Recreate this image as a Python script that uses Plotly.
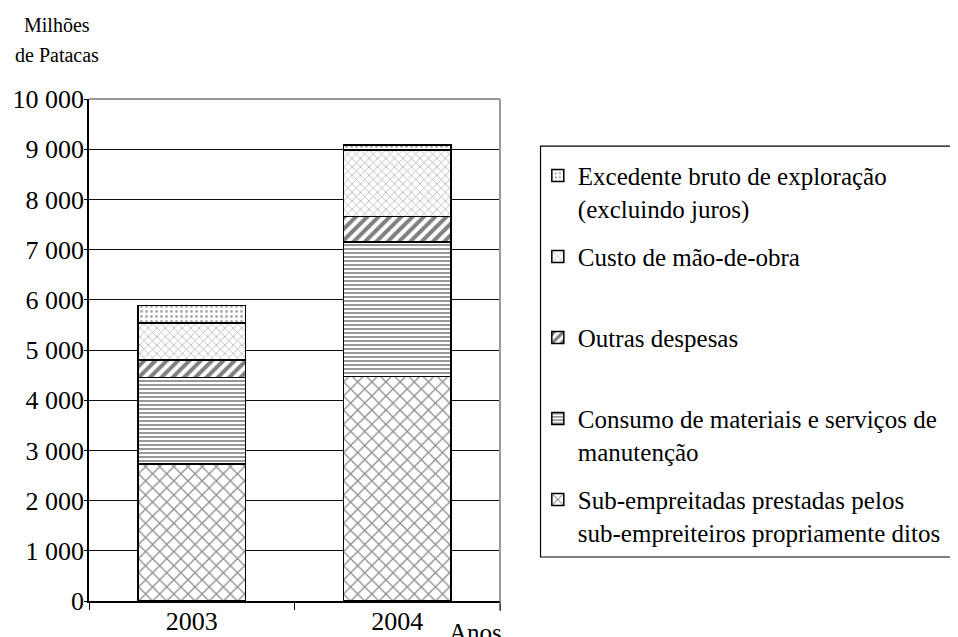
import plotly.graph_objects as go

# ---- data ----
years = ["2003", "2004"]
sub_empreitadas = [2730, 4470]
consumo = [1720, 2680]
outras = [350, 510]
custo = [740, 1320]
excedente = [345, 105]

series_names = [
    "Sub-empreitadas prestadas pelos<br>sub-empreiteiros propriamente ditos",
    "Consumo de materiais e serviços de<br>manutenção",
    "Outras despesas<br>&nbsp;",
    "Custo de mão-de-obra<br>&nbsp;",
    "Excedente bruto de exploração<br>(excluindo juros)",
]
series_values = [sub_empreitadas, consumo, outras, custo, excedente]
legend_ranks = [5, 4, 3, 2, 1]

ytick_vals = [0, 1000, 2000, 3000, 4000, 5000, 6000, 7000, 8000, 9000, 10000]
ytick_text = [f"{v:,}".replace(",", " ") for v in ytick_vals]

y_title_lines = ["Milhões", "de Patacas"]
x_title = "Anos"

# ---- styles ----
patterns = [
    dict(shape="x", size=10, solidity=0.25, fgcolor="#222222", bgcolor="white"),
    dict(shape="-", size=4, solidity=0.4, fgcolor="#000000", bgcolor="white"),
    dict(shape="/", size=8, solidity=0.5, fgcolor="#000000", bgcolor="white"),
    dict(shape="x", size=6, solidity=0.25, fgcolor="#666666", bgcolor="white"),
    dict(shape=".", size=5, solidity=0.25, fgcolor="#555555", bgcolor="white"),
]

FONT = "Liberation Serif, Times New Roman, serif"

fig = go.Figure()
for i, (name, vals) in enumerate(zip(series_names, series_values)):
    fig.add_trace(go.Bar(
        x=years, y=vals, name=name, legendgroup=f"g{i}", legendrank=legend_ranks[i],
        marker=dict(color="white", pattern=patterns[i],
                    line=dict(color="black", width=1.5)),
    ))

# page body has an 8px default margin: figure is sized/margined to compensate
fig.update_layout(
    width=950, height=629,
    margin=dict(l=81, r=453, t=91, b=36),
    paper_bgcolor="white", plot_bgcolor="white",
    font=dict(family=FONT, size=25, color="black"),
    barmode="stack", bargap=0.476,
    showlegend=True,
    legend=dict(
        x=1.092, xanchor="left", y=0.893, yanchor="top",
        traceorder="grouped", tracegroupgap=13,
        valign="top", bgcolor="rgba(0,0,0,0)", borderwidth=0,
        font=dict(family=FONT, size=25, color="black"),
    ),
    xaxis=dict(
        type="category", showline=True, linecolor="black", linewidth=1.5,
        ticks="outside", tickson="boundaries", ticklen=7, tickcolor="black",
        ticklabelstandoff=-4,
        showgrid=False, tickfont=dict(size=26), automargin=False,
    ),
    yaxis=dict(
        range=[0, 10000], tickvals=ytick_vals, ticktext=ytick_text,
        showline=True, linecolor="black", linewidth=1.5,
        ticks="outside", ticklen=3, tickcolor="black",
        ticklabelstandoff=-5,
        showgrid=True, gridcolor="#111111", gridwidth=1.2,
        zeroline=False, tickfont=dict(size=26), automargin=False,
    ),
    shapes=[
        dict(type="line", xref="x domain", yref="y domain", x0=0, x1=1, y0=1, y1=1,
             line=dict(color="#999999", width=2), layer="above"),
        dict(type="line", xref="x domain", yref="y domain", x0=1, x1=1, y0=0, y1=1,
             line=dict(color="#999999", width=2), layer="above"),
        dict(type="line", xref="x domain", yref="y domain", x0=1, x1=1, y0=0, y1=-0.02,
             line=dict(color="#555555", width=1.5), layer="above"),
        dict(type="rect", xref="paper", yref="paper", x0=1.0986, x1=2.12, y0=0.0876, y1=0.906,
             line=dict(color="black", width=1.2), fillcolor="rgba(0,0,0,0)"),
    ],
    annotations=[
        dict(text=y_title_lines[0], xref="paper", yref="paper", x=-0.077, y=1.147,
             xanchor="center", yanchor="middle", showarrow=False,
             font=dict(family=FONT, size=20)),
        dict(text=y_title_lines[1], xref="paper", yref="paper", x=-0.077, y=1.087,
             xanchor="center", yanchor="middle", showarrow=False,
             font=dict(family=FONT, size=20)),
        dict(text=x_title, xref="paper", yref="paper", x=0.94, y=-0.062,
             xanchor="center", yanchor="middle", showarrow=False,
             font=dict(family=FONT, size=25)),
    ],
)

fig.write_html("out.html")
